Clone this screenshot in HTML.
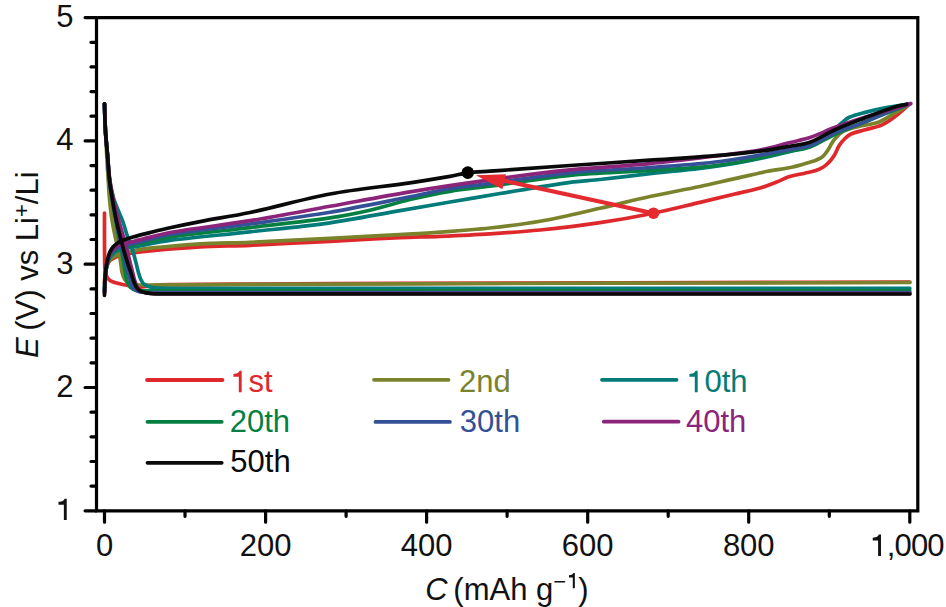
<!DOCTYPE html>
<html><head><meta charset="utf-8"><style>
html,body{margin:0;padding:0;background:#fff;}
svg{display:block;}
text{font-family:"Liberation Sans",sans-serif;font-size:31.00px;fill:#111;}
</style></head><body>
<svg width="946" height="607" viewBox="0 0 946 607">
<g fill="none" stroke-width="3.7" stroke-linecap="round" stroke-linejoin="round">
<path d="M104.50,213.00 C104.50,222.00 104.46,231.00 104.50,240.00 C104.53,247.33 104.56,254.67 104.70,262.00 C104.76,265.00 104.64,268.03 105.10,271.00 C105.42,273.07 106.04,275.14 107.00,277.00 C107.70,278.37 108.74,279.62 110.00,280.50 C111.48,281.54 113.28,282.03 115.00,282.60 C116.63,283.14 118.32,283.44 120.00,283.80 C123.66,284.58 127.31,285.37 131.00,286.00 C133.98,286.51 136.97,287.23 140.00,287.20 C143.37,287.16 146.65,286.09 150.00,285.80 C156.65,285.22 163.32,284.71 170.00,284.60 C200.00,284.11 230.00,284.16 260.00,284.00 C306.67,283.76 353.33,283.55 400.00,283.40 C500.00,283.08 600.00,282.86 700.00,282.60 C769.93,282.42 839.87,282.27 909.80,282.10" stroke="#de282c"/>
<path d="M104.50,283.50 C104.77,280.00 104.82,276.48 105.30,273.00 C105.65,270.46 106.10,267.90 107.00,265.50 C107.68,263.68 108.63,261.87 110.00,260.50 C111.37,259.13 113.23,258.30 115.00,257.50 C116.59,256.79 118.32,256.44 120.00,256.00 C123.65,255.04 127.28,253.94 131.00,253.30 C137.29,252.21 143.64,251.40 150.00,250.80 C166.65,249.23 183.31,247.72 200.00,246.80 C216.65,245.88 233.34,246.00 250.00,245.30 C276.68,244.17 303.33,242.65 330.00,241.30 C353.33,240.12 376.66,238.76 400.00,237.70 C413.33,237.09 426.67,236.88 440.00,236.30 C456.67,235.58 473.35,234.85 490.00,233.80 C506.68,232.75 523.37,231.69 540.00,230.00 C560.05,227.96 580.07,225.55 600.00,222.60 C617.91,219.95 635.75,216.79 653.50,213.20 C669.10,210.05 684.51,206.06 700.00,202.40 C711.28,199.73 722.52,196.89 733.80,194.20 C742.26,192.19 750.83,190.66 759.20,188.30 C764.92,186.69 770.45,184.44 776.00,182.30 C780.59,180.53 784.91,178.08 789.60,176.60 C794.58,175.03 799.81,174.36 804.90,173.20 C808.31,172.43 811.78,171.90 815.10,170.80 C817.85,169.89 820.54,168.72 823.00,167.20 C825.21,165.83 827.20,164.08 829.00,162.20 C830.95,160.16 832.73,157.91 834.20,155.50 C836.14,152.32 837.20,148.65 839.20,145.50 C840.82,142.94 842.83,140.61 845.00,138.50 C846.79,136.76 848.72,135.02 851.00,134.00 C855.17,132.14 859.72,131.29 864.10,130.00 C870.05,128.25 876.35,127.46 882.00,124.90 C887.37,122.47 892.09,118.76 896.80,115.20 C901.38,111.74 905.47,107.67 909.80,103.90" stroke="#de282c"/>
<path d="M104.50,103.90 C104.80,112.60 105.01,121.30 105.40,130.00 C105.85,140.00 106.44,150.00 107.00,160.00 C107.37,166.67 107.77,173.34 108.20,180.00 C108.63,186.67 108.97,193.35 109.60,200.00 C110.24,206.68 110.97,213.37 112.00,220.00 C112.94,226.04 114.21,232.03 115.50,238.00 C116.37,242.03 117.64,245.97 118.50,250.00 C119.34,253.97 119.96,257.99 120.60,262.00 C121.13,265.32 121.23,268.72 122.00,272.00 C122.61,274.59 123.26,277.27 124.70,279.50 C125.84,281.27 127.52,282.89 129.50,283.60 C132.82,284.79 136.47,284.92 140.00,285.00 C153.33,285.32 166.67,284.87 180.00,284.80 C206.67,284.67 233.33,284.52 260.00,284.40 C306.67,284.19 353.33,283.95 400.00,283.80 C500.00,283.48 600.00,283.26 700.00,283.00 C769.93,282.82 839.87,282.67 909.80,282.50" stroke="#7a822c"/>
<path d="M104.50,283.00 C104.77,279.33 104.79,275.64 105.30,272.00 C105.63,269.62 106.15,267.25 107.00,265.00 C107.73,263.05 108.61,261.06 110.00,259.50 C111.35,257.98 113.22,256.98 115.00,256.00 C116.57,255.13 118.28,254.52 120.00,254.00 C123.62,252.91 127.29,251.92 131.00,251.20 C137.30,249.98 143.62,248.88 150.00,248.20 C166.64,246.42 183.30,244.79 200.00,243.80 C216.65,242.82 233.34,242.99 250.00,242.30 C276.68,241.19 303.34,239.77 330.00,238.40 C353.34,237.20 376.67,235.92 400.00,234.60 C413.34,233.85 426.68,233.18 440.00,232.20 C456.68,230.98 473.37,229.81 490.00,228.00 C506.72,226.18 523.45,224.26 540.00,221.30 C560.14,217.69 580.04,212.80 600.00,208.30 C616.71,204.53 633.27,200.15 650.00,196.50 C666.61,192.88 683.37,189.99 700.00,186.50 C711.30,184.13 722.53,181.43 733.80,178.90 C745.10,176.36 756.35,173.58 767.70,171.30 C776.09,169.61 784.64,168.80 793.00,167.00 C798.72,165.77 804.28,163.86 809.90,162.20 C811.95,161.59 814.05,161.08 816.00,160.20 C818.44,159.10 820.96,158.03 823.00,156.30 C825.04,154.56 826.49,152.22 828.00,150.00 C829.33,148.04 830.24,145.81 831.50,143.80 C832.58,142.07 833.65,140.32 835.00,138.80 C837.16,136.37 839.14,133.55 842.00,132.00 C846.55,129.53 851.71,128.36 856.70,127.00 C864.06,124.99 871.82,124.47 879.00,121.90 C884.31,120.00 888.93,116.55 893.80,113.70 C899.20,110.54 904.47,107.17 909.80,103.90" stroke="#7a822c"/>
<path d="M104.50,103.90 C104.80,112.60 104.89,121.31 105.40,130.00 C105.89,138.35 106.78,146.67 107.50,155.00 C108.22,163.33 108.54,171.71 109.70,180.00 C110.55,186.07 111.86,192.09 113.50,198.00 C114.64,202.12 116.43,206.03 118.00,210.00 C119.59,214.03 121.54,217.92 123.00,222.00 C124.64,226.60 125.73,231.38 127.30,236.00 C128.90,240.71 130.95,245.27 132.50,250.00 C133.79,253.94 134.74,257.99 135.80,262.00 C136.68,265.32 137.36,268.70 138.30,272.00 C139.02,274.53 139.64,277.14 140.80,279.50 C141.73,281.38 142.82,283.34 144.50,284.60 C146.49,286.08 148.94,287.04 151.40,287.40 C157.54,288.29 163.79,288.29 170.00,288.30 C416.60,288.59 663.20,288.30 909.80,288.30" stroke="#037b79"/>
<path d="M104.50,289.00 C104.73,284.67 104.76,280.32 105.20,276.00 C105.53,272.81 106.03,269.62 106.80,266.50 C107.47,263.77 108.18,260.98 109.50,258.50 C110.61,256.41 112.13,254.46 114.00,253.00 C116.05,251.39 118.50,250.24 121.00,249.50 C125.56,248.15 130.33,247.67 135.00,246.80 C146.66,244.63 158.24,241.92 170.00,240.40 C196.59,236.95 223.34,234.83 250.00,231.90 C276.68,228.97 303.43,226.57 330.00,222.80 C353.45,219.47 376.66,214.65 400.00,210.60 C416.66,207.71 433.33,204.85 450.00,202.00 C466.66,199.15 483.32,196.23 500.00,193.50 C523.32,189.69 546.60,185.68 570.00,182.40 C579.95,181.01 590.01,180.60 600.00,179.50 C616.68,177.67 633.32,175.43 650.00,173.60 C666.65,171.77 683.37,170.55 700.00,168.50 C713.38,166.85 726.75,165.00 740.00,162.50 C756.77,159.33 773.46,155.69 790.00,151.50 C798.48,149.35 806.95,146.93 815.00,143.50 C820.87,141.00 826.37,137.59 831.50,133.80 C834.12,131.86 835.75,128.86 838.00,126.50 C839.25,125.19 840.59,123.95 842.00,122.80 C844.36,120.88 846.53,118.58 849.30,117.30 C854.00,115.13 859.09,113.91 864.10,112.60 C871.47,110.67 878.92,109.02 886.40,107.60 C894.16,106.12 902.00,105.13 909.80,103.90" stroke="#037b79"/>
<path d="M104.50,103.90 C104.80,112.60 104.89,121.31 105.40,130.00 C105.89,138.35 106.82,146.67 107.50,155.00 C108.18,163.33 108.61,171.69 109.50,180.00 C110.21,186.69 111.30,193.34 112.30,200.00 C113.30,206.68 114.36,213.35 115.50,220.00 C116.53,226.01 117.62,232.01 118.80,238.00 C119.72,242.68 120.91,247.31 121.80,252.00 C122.81,257.31 123.55,262.68 124.50,268.00 C125.28,272.34 125.70,276.78 127.00,281.00 C127.72,283.35 128.71,285.81 130.50,287.50 C132.23,289.12 134.64,290.13 137.00,290.40 C144.62,291.28 152.33,290.90 160.00,290.90 C409.93,291.06 659.87,290.90 909.80,290.90" stroke="#058042"/>
<path d="M104.50,291.00 C104.73,286.33 104.78,281.65 105.20,277.00 C105.55,273.15 105.99,269.28 106.80,265.50 C107.42,262.59 108.16,259.66 109.50,257.00 C110.60,254.81 112.09,252.73 114.00,251.20 C116.03,249.58 118.51,248.53 121.00,247.80 C125.56,246.45 130.35,246.01 135.00,245.00 C146.68,242.47 158.18,238.99 170.00,237.20 C196.56,233.18 223.34,230.83 250.00,227.60 C276.67,224.37 303.41,221.66 330.00,217.80 C343.43,215.85 356.77,213.23 370.00,210.20 C383.45,207.12 396.57,202.67 410.00,199.50 C423.25,196.37 436.57,193.53 450.00,191.30 C463.26,189.10 476.68,187.98 490.00,186.20 C516.68,182.64 543.22,177.93 570.00,175.30 C596.59,172.69 623.35,172.33 650.00,170.50 C673.35,168.90 696.81,168.18 720.00,165.00 C743.56,161.77 766.69,155.96 790.00,151.30 C796.69,149.96 803.62,149.41 810.00,147.00 C818.58,143.76 826.16,138.31 834.50,134.50 C844.18,130.07 854.15,126.33 864.00,122.30 C873.92,118.23 883.85,114.20 893.80,110.20 C899.12,108.06 904.47,106.00 909.80,103.90" stroke="#058042"/>
<path d="M104.50,103.90 C104.80,112.60 104.89,121.31 105.40,130.00 C105.89,138.35 106.82,146.67 107.50,155.00 C108.18,163.33 108.58,171.69 109.50,180.00 C110.24,186.70 111.42,193.35 112.50,200.00 C113.59,206.68 114.77,213.34 116.00,220.00 C117.11,226.01 118.19,232.03 119.50,238.00 C120.53,242.70 121.83,247.33 123.00,252.00 C124.17,256.67 125.28,261.35 126.50,266.00 C127.55,270.01 128.62,274.02 129.80,278.00 C130.79,281.36 130.94,285.17 133.00,288.00 C134.58,290.17 137.35,291.55 140.00,292.00 C146.57,293.12 153.33,292.59 160.00,292.60 C409.93,292.83 659.87,292.67 909.80,292.70" stroke="#345096"/>
<path d="M104.50,292.50 C104.73,287.67 104.80,282.82 105.20,278.00 C105.56,273.65 105.96,269.28 106.80,265.00 C107.40,261.93 108.14,258.82 109.50,256.00 C110.58,253.75 112.07,251.59 114.00,250.00 C116.01,248.34 118.51,247.29 121.00,246.50 C125.56,245.04 130.35,244.44 135.00,243.30 C146.68,240.44 158.14,236.49 170.00,234.50 C196.52,230.05 223.36,227.70 250.00,224.00 C276.69,220.30 303.43,216.82 330.00,212.30 C356.78,207.75 383.36,202.08 410.00,196.80 C423.36,194.15 436.56,190.72 450.00,188.50 C463.25,186.31 476.68,185.34 490.00,183.60 C516.68,180.11 543.23,175.49 570.00,172.80 C596.59,170.12 623.35,169.51 650.00,167.50 C673.35,165.74 696.77,164.47 720.00,161.50 C743.48,158.50 766.70,153.74 790.00,149.60 C796.70,148.41 803.62,147.88 810.00,145.50 C818.59,142.30 826.07,136.61 834.50,133.00 C844.11,128.89 854.28,126.24 864.00,122.40 C874.06,118.43 883.78,113.65 893.80,109.60 C899.05,107.48 904.47,105.80 909.80,103.90" stroke="#345096"/>
<path d="M104.50,103.90 C104.80,112.60 104.89,121.31 105.40,130.00 C105.89,138.35 106.77,146.67 107.50,155.00 C108.23,163.34 108.69,171.70 109.80,180.00 C110.70,186.72 112.07,193.37 113.50,200.00 C114.80,206.05 116.41,212.02 118.00,218.00 C119.25,222.69 120.67,227.33 122.00,232.00 C123.33,236.67 124.74,241.31 126.00,246.00 C127.24,250.65 128.33,255.33 129.50,260.00 C130.50,264.00 131.46,268.01 132.50,272.00 C133.46,275.68 134.21,279.43 135.50,283.00 C136.39,285.45 137.11,288.20 139.00,290.00 C140.84,291.75 143.50,292.57 146.00,293.00 C150.60,293.79 155.33,293.60 160.00,293.60 C409.93,293.83 659.87,293.67 909.80,293.70" stroke="#8c247a"/>
<path d="M104.50,293.20 C104.73,288.13 104.80,283.06 105.20,278.00 C105.57,273.32 105.95,268.62 106.80,264.00 C107.39,260.76 108.13,257.49 109.50,254.50 C110.56,252.18 112.07,249.98 114.00,248.30 C116.00,246.56 118.49,245.37 121.00,244.50 C125.54,242.92 130.33,242.14 135.00,241.00 C146.66,238.14 158.18,234.59 170.00,232.50 C196.54,227.81 223.40,225.06 250.00,220.70 C276.74,216.32 303.34,211.12 330.00,206.30 C356.67,201.48 383.26,196.23 410.00,191.80 C436.60,187.39 463.28,183.46 490.00,179.80 C516.62,176.16 543.27,172.61 570.00,169.90 C596.61,167.21 623.37,166.17 650.00,163.60 C673.38,161.34 696.68,158.28 720.00,155.40 C733.35,153.75 746.77,152.44 760.00,150.00 C770.14,148.13 780.00,144.98 790.00,142.50 C796.66,140.85 803.49,139.78 810.00,137.60 C818.36,134.80 826.23,130.66 834.50,127.60 C844.24,123.99 854.12,120.78 864.00,117.60 C873.89,114.42 883.85,111.48 893.80,108.50 C899.45,106.81 905.13,105.23 910.80,103.60" stroke="#8c247a"/>
<path d="M104.50,103.90 C104.80,112.60 104.89,121.31 105.40,130.00 C105.89,138.35 106.82,146.67 107.50,155.00 C108.18,163.33 108.58,171.69 109.50,180.00 C110.24,186.70 111.39,193.35 112.50,200.00 C113.62,206.69 114.80,213.37 116.20,220.00 C117.40,225.70 118.88,231.35 120.30,237.00 C121.48,241.68 122.70,246.35 124.00,251.00 C125.13,255.02 126.33,259.02 127.60,263.00 C128.56,266.02 129.70,268.99 130.70,272.00 C131.70,274.99 132.45,278.07 133.60,281.00 C134.55,283.41 135.41,285.95 137.00,288.00 C138.29,289.65 140.04,291.07 142.00,291.80 C145.17,292.98 148.62,293.41 152.00,293.60 C161.32,294.12 170.67,293.90 180.00,293.90 C423.27,294.03 666.53,293.97 909.80,294.00" stroke="#0a0a0a"/>
<path d="M104.50,295.40 C104.63,290.60 104.65,285.80 104.90,281.00 C105.09,277.33 105.38,273.65 105.80,270.00 C106.15,266.98 106.53,263.96 107.20,261.00 C107.90,257.95 108.70,254.89 109.90,252.00 C110.65,250.19 111.74,248.51 113.00,247.00 C114.14,245.64 115.54,244.51 117.00,243.50 C118.56,242.43 120.25,241.51 122.00,240.80 C125.59,239.34 129.28,238.09 133.00,237.00 C138.62,235.35 144.32,234.01 150.00,232.60 C156.65,230.95 163.30,229.27 170.00,227.80 C179.97,225.61 189.97,223.52 200.00,221.60 C216.64,218.42 233.43,216.02 250.00,212.50 C276.77,206.82 303.09,199.00 330.00,194.00 C356.47,189.09 383.36,186.71 410.00,182.80 C423.36,180.84 436.69,178.70 450.00,176.40 C455.96,175.37 461.80,173.58 467.80,172.80 C475.16,171.84 482.60,171.73 490.00,171.20 C498.33,170.60 506.67,169.99 515.00,169.40 C533.33,168.09 551.66,166.75 570.00,165.50 C596.66,163.68 623.34,162.00 650.00,160.20 C673.34,158.63 696.69,157.31 720.00,155.40 C733.36,154.31 746.71,152.95 760.00,151.20 C770.05,149.88 780.02,148.00 790.00,146.20 C796.69,145.00 803.61,144.53 810.00,142.20 C818.57,139.08 826.16,133.71 834.50,130.00 C844.18,125.70 854.11,122.00 864.00,118.20 C873.88,114.40 883.74,110.51 893.80,107.20 C897.93,105.84 902.27,105.20 906.50,104.20" stroke="#0a0a0a"/>
</g>
<path d="M96.5,17.6H917.8V510.8H96.5Z" fill="none" stroke="#000" stroke-width="3.2"/>
<path d="M85.1,510.8H96.5 M91.0,486.1H96.5 M91.0,461.5H96.5 M91.0,436.8H96.5 M91.0,412.2H96.5 M85.1,387.5H96.5 M91.0,362.8H96.5 M91.0,338.2H96.5 M91.0,313.5H96.5 M91.0,288.9H96.5 M85.1,264.2H96.5 M91.0,239.5H96.5 M91.0,214.9H96.5 M91.0,190.2H96.5 M91.0,165.6H96.5 M85.1,140.9H96.5 M91.0,116.2H96.5 M91.0,91.6H96.5 M91.0,66.9H96.5 M91.0,42.3H96.5 M85.1,17.6H96.5 M104.5,510.8V522.2 M185.0,510.8V516.3 M265.6,510.8V522.2 M346.1,510.8V516.3 M426.6,510.8V522.2 M507.1,510.8V516.3 M587.7,510.8V522.2 M668.2,510.8V516.3 M748.7,510.8V522.2 M829.3,510.8V516.3 M909.8,510.8V522.2" stroke="#000" stroke-width="3.2" fill="none" stroke-linecap="round"/>
<text transform="translate(73.50,396.80) scale(1,1.000)" text-anchor="end">2</text><text transform="translate(73.50,273.50) scale(1,1.000)" text-anchor="end">3</text><text transform="translate(73.50,150.20) scale(1,1.000)" text-anchor="end">4</text><text transform="translate(73.50,26.90) scale(1,1.000)" text-anchor="end">5</text><text transform="translate(73.50,520.10) scale(1,1.000)" text-anchor="end"><tspan style="fill:none">1</tspan></text><path d="M63.86,520.10 L66.74,520.10 L66.74,498.65 L64.57,498.65 C64.20,500.20 62.90,501.56 58.50,501.87 L58.50,504.72 L63.86,504.72 Z" fill="#111"/>
<text transform="translate(104.50,556.00) scale(1,1.000)" text-anchor="middle">0</text><text transform="translate(265.56,556.00) scale(1,1.000)" text-anchor="middle">200</text><text transform="translate(426.62,556.00) scale(1,1.000)" text-anchor="middle">400</text><text transform="translate(587.68,556.00) scale(1,1.000)" text-anchor="middle">600</text><text transform="translate(748.74,556.00) scale(1,1.000)" text-anchor="middle">800</text><text transform="translate(870.50,556.00) scale(1,1.000)"><tspan style="letter-spacing:-0.9px"><tspan style="fill:none">1</tspan>,000</tspan></text><path d="M878.10,556.00 L880.98,556.00 L880.98,534.55 L878.81,534.55 C878.44,536.10 877.13,537.46 872.73,537.77 L872.73,540.62 L878.10,540.62 Z" fill="#111"/>
<path d="M147.0,380.0H222.5" stroke="#de282c" stroke-width="3.8" stroke-linecap="round"/><text transform="translate(231.20,392.20) scale(1,1.000)" style="fill:#de282c"><tspan style="fill:none">1</tspan>st</text><path d="M238.79,392.20 L241.68,392.20 L241.68,370.75 L239.51,370.75 C239.14,372.30 237.83,373.66 233.43,373.97 L233.43,376.82 L238.79,376.82 Z" fill="#de282c"/><path d="M374.0,379.8H448.5" stroke="#7a822c" stroke-width="3.8" stroke-linecap="round"/><text transform="translate(459.00,392.20) scale(1,1.000)" style="fill:#7a822c">2nd</text><path d="M602.0,379.8H676.5" stroke="#037b79" stroke-width="3.8" stroke-linecap="round"/><text transform="translate(687.20,392.20) scale(1,1.000)" style="fill:#037b79"><tspan style="fill:none">1</tspan>0th</text><path d="M694.80,392.20 L697.68,392.20 L697.68,370.75 L695.51,370.75 C695.14,372.30 693.83,373.66 689.43,373.97 L689.43,376.82 L694.80,376.82 Z" fill="#037b79"/><path d="M147.5,421.8H221.7" stroke="#058042" stroke-width="3.8" stroke-linecap="round"/><text transform="translate(229.70,432.20) scale(1,1.000)" style="fill:#058042">20th</text><path d="M375.5,421.9H449.9" stroke="#345096" stroke-width="3.8" stroke-linecap="round"/><text transform="translate(459.80,432.20) scale(1,1.000)" style="fill:#345096">30th</text><path d="M603.8,421.7H678.5" stroke="#8c247a" stroke-width="3.8" stroke-linecap="round"/><text transform="translate(686.00,432.20) scale(1,1.000)" style="fill:#8c247a">40th</text><path d="M147.5,462.8H221.7" stroke="#0a0a0a" stroke-width="3.8" stroke-linecap="round"/><text transform="translate(230.30,472.20) scale(1,1.000)" style="fill:#0a0a0a">50th</text>
<path d="M572.79,588.30 L574.84,588.30 L574.84,573.08 L573.30,573.08 C573.03,574.18 572.11,575.14 568.98,575.36 L568.98,577.39 L572.79,577.39 Z" fill="#111"/>
<line x1="653.5" y1="213.2" x2="496" y2="179" stroke="#e52a30" stroke-width="4.0"/>
<polygon points="475.8,175.3 506,174.3 502.4,189.3" fill="#e52a30"/>
<circle cx="653.5" cy="213.2" r="5.8" fill="#e52a30"/>
<circle cx="467.8" cy="172.6" r="6.3" fill="#000"/>
<text transform="translate(38.00,358.00) rotate(-90) scale(1,1.000)"><tspan font-style="italic">E</tspan><tspan dx="-2"> (V) vs Li</tspan><tspan dy="-9" style="font-size:22px">+</tspan><tspan dy="9">/Li</tspan></text>
<text transform="translate(425.30,600.00) scale(1,1.000)"><tspan font-style="italic">C</tspan><tspan dx="-3"> (mAh g</tspan><tspan dy="-11" style="font-size:22px">&#8722;<tspan style="fill:none">1</tspan></tspan><tspan dy="11">)</tspan></text>
</svg>
</body></html>
